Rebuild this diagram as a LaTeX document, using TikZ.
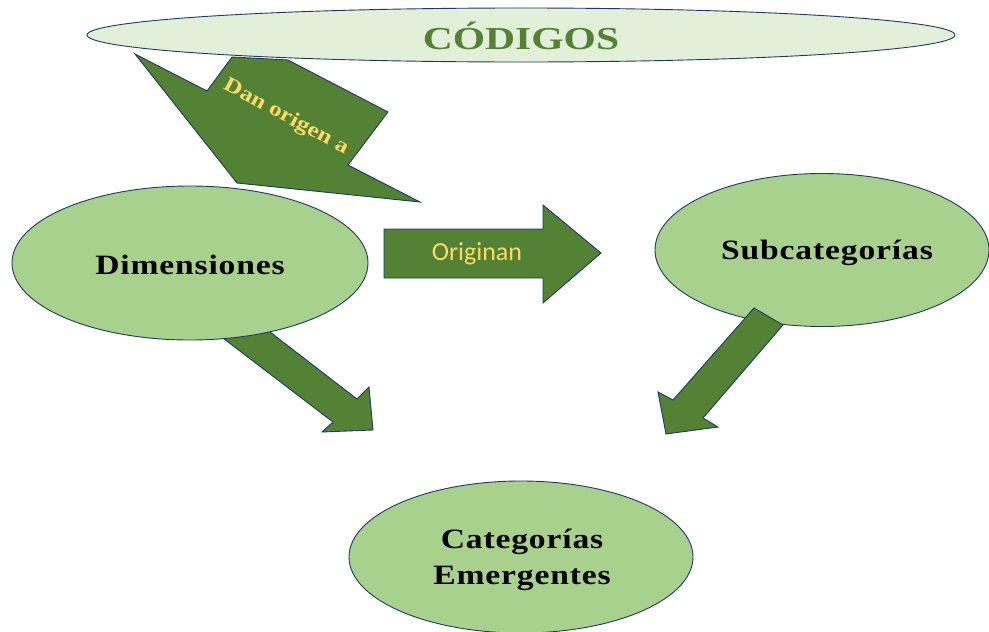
\documentclass[tikz,border=0pt]{standalone}
\usepackage{fontspec}
\setmainfont{Liberation Serif}
\newfontfamily\labfont[FakeStretch=1.2, LetterSpace=3]{Liberation Serif}
\newfontfamily\codfont[FakeStretch=1.3]{Liberation Serif}
\newfontfamily\danfont[FakeStretch=1.2]{Liberation Serif}
\newfontfamily\sansfont{Carlito}
\usetikzlibrary{shapes.geometric}
\definecolor{arrowgreen}{HTML}{548235}
\definecolor{ellgreen}{HTML}{A9D18E}
\definecolor{palegreen}{HTML}{E2F0D9}
\definecolor{navy}{HTML}{1F3864}
\definecolor{labyellow}{HTML}{FFD966}
\tikzset{
  blockarrow/.style={fill=arrowgreen, draw=navy, line width=0.9pt, line join=miter},
  bubble/.style={ellipse, fill=ellgreen, draw=navy, line width=0.9pt, inner sep=0pt},
  bubbletext/.style={font=\labfont\bfseries\fontsize{28}{36}\selectfont, text=black, align=center}
}
\begin{document}
\begin{tikzpicture}[x=1pt, y=-1pt]
\useasboundingbox (0,0) rectangle (989,632);
% top ellipse
\node[ellipse, fill=palegreen, draw=navy, line width=0.9pt, minimum width=868pt, minimum height=54pt, inner sep=0pt] (cod) at (521,35) {};
\node[font=\codfont\bfseries\fontsize{32}{36}\selectfont, text=arrowgreen] (codt) at (521,36) {CÓDIGOS};
% Dan origen a arrow
\draw[blockarrow] (135,54) -- (207,91) -- (232,57) -- (288,60) -- (388,112) -- (348,165) -- (420,202) -- (237,183) -- cycle;
\node[font=\danfont\bfseries\fontsize{21}{24}\selectfont, text=labyellow, rotate=-28] (dan) at (286,117) {Dan origen a};
% Dimensiones arrow (under ellipse)
\draw[blockarrow] (231,302) -- (357,399) -- (369,387) -- (373,430) -- (322,432) -- (333,422) -- (211,329) -- cycle;
% ellipses
\node[bubble, minimum width=356pt, minimum height=154pt] (dim) at (190,263) {};
\node[bubbletext] (dimt) at (190,265) {Dimensiones};
\node[bubble, minimum width=334pt, minimum height=153pt] (sub) at (822,250) {};
\node[bubbletext] (subt) at (827,253) {Subcategorías};
% Subcategorias arrow (over ellipse)
\draw[blockarrow] (754,308) -- (783,325) -- (703,418) -- (718,427) -- (666,434) -- (658,392) -- (673,400) -- cycle;
% Originan arrow
\draw[blockarrow] (384,229) -- (543,229) -- (543,205) -- (601,253) -- (543,303) -- (543,278) -- (384,278) -- cycle;
\node[font=\sansfont\fontsize{26}{28}\selectfont, text=labyellow] (orig) at (477,254) {Originan};
% Categorias emergentes
\node[bubble, minimum width=344pt, minimum height=152pt] (cat) at (521,557) {};
\node[bubbletext, font=\labfont\bfseries\fontsize{28}{36}\selectfont] (catt) at (522,560) {Categorías\\Emergentes};
\end{tikzpicture}
\end{document}
